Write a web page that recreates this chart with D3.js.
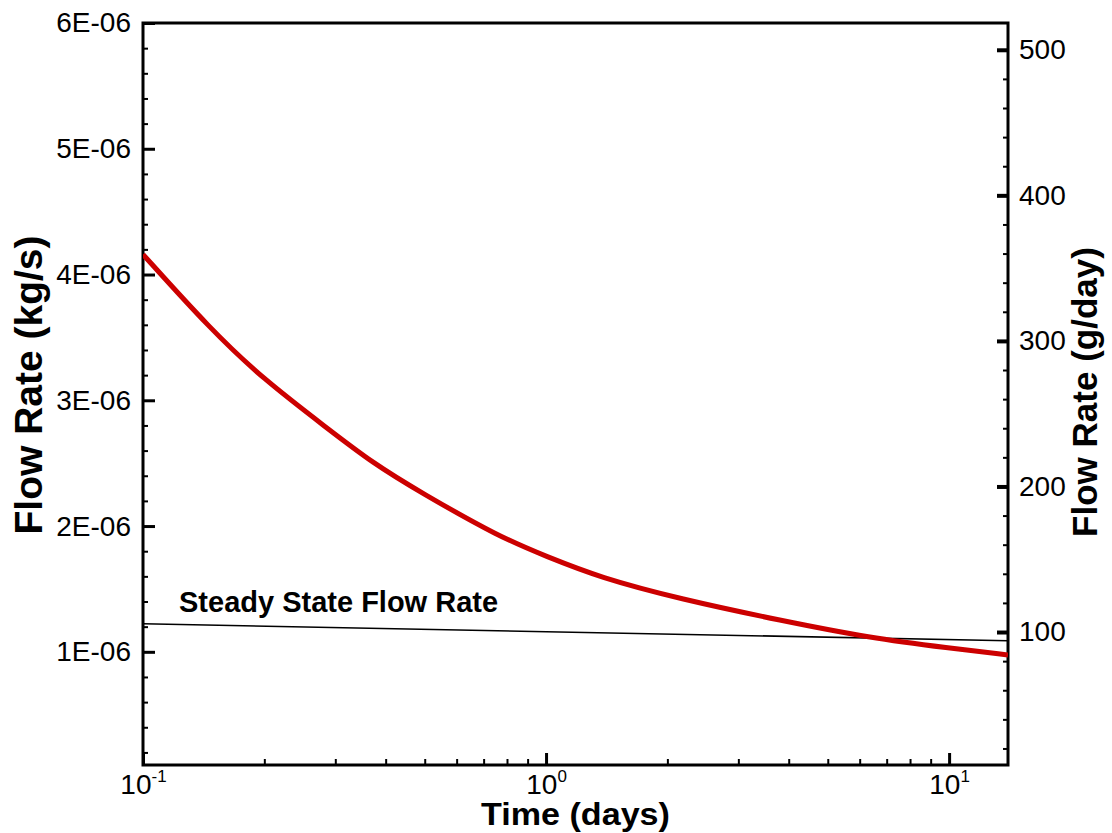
<!DOCTYPE html>
<html><head><meta charset="utf-8">
<script src="https://cdn.jsdelivr.net/npm/d3@7"></script>
<style>
body{margin:0;background:#fff}
svg{display:block}
text{font-family:"Liberation Sans",Arial,Helvetica,sans-serif;fill:#000}
</style>
</head><body>
<svg id="chart" width="1112" height="833"></svg>
<script>
// ---- data ----
const timeDays = [0.1, 0.1466, 0.1985, 0.286, 0.372, 0.487, 0.769, 1.0, 1.36, 2.15, 3.81, 6.37, 10, 14];
const flowKgPerS = [4.16e-6, 3.57e-6, 3.17e-6, 2.78e-6, 2.50e-6, 2.27e-6, 1.91e-6, 1.76e-6, 1.59e-6, 1.42e-6, 1.25e-6, 1.11e-6, 1.03e-6, 0.975e-6];
const steadyTime = [0.1, 14];
const steadyFlow = [1.223e-6, 1.088e-6];
const steadyLabel = "Steady State Flow Rate";
const xTickValues = [0.1, 1, 10];
const xTickExponents = ["-1", "0", "1"];
const xMinorTicks = [0.2, 0.3, 0.4, 0.5, 0.6, 0.7, 0.8, 0.9, 2, 3, 4, 5, 6, 7, 8, 9];
const leftTickValues = [1e-6, 2e-6, 3e-6, 4e-6, 5e-6, 6e-6];
const leftTickLabels = ["1E-06", "2E-06", "3E-06", "4E-06", "5E-06", "6E-06"];
const rightTickValues = [100, 200, 300, 400, 500];
const rightTickLabels = ["100", "200", "300", "400", "500"];
const xDomain = [0.1, 14];
const yDomain = [0.1e-6, 6e-6];
const kgPerSToGPerDay = 86400 * 1000;
const xTitle = "Time (days)";
const yLeftTitle = "Flow Rate (kg/s)";
const yRightTitle = "Flow Rate (g/day)";

// ---- layout ----
const L = 143, T = 23, R = 1008, B = 765;
const svg = d3.select("#chart");

const x = d3.scaleLog().domain(xDomain).range([L, R]);
const y = d3.scaleLinear().domain(yDomain).range([B, T]);
const yR = d3.scaleLinear().domain(yDomain.map(v => v * kgPerSToGPerDay)).range([B, T]);

const leftMinor = d3.range(2, 60, 2).filter(v => v % 10 !== 0).map(v => v * 1e-7);
const rightMinor = d3.range(20, 520, 20).filter(v => v % 100 !== 0 && v <= yDomain[1] * kgPerSToGPerDay);

function styleAxis(g, w) {
  g.select(".domain").remove();
  g.selectAll(".tick line").attr("stroke", "#000").attr("stroke-width", w);
}

// minor ticks
svg.append("g").attr("transform", `translate(${L},0)`)
  .call(d3.axisLeft(y).tickValues(leftMinor).tickFormat("").tickSizeInner(-5).tickSizeOuter(0))
  .call(g => styleAxis(g, 2));
svg.append("g").attr("transform", `translate(${R},0)`)
  .call(d3.axisRight(yR).tickValues(rightMinor).tickFormat("").tickSizeInner(-5).tickSizeOuter(0))
  .call(g => styleAxis(g, 2));
svg.append("g").attr("transform", `translate(0,${B})`)
  .call(d3.axisBottom(x).tickValues(xMinorTicks).tickFormat("").tickSizeInner(-6).tickSizeOuter(0))
  .call(g => styleAxis(g, 2));

// major left axis
svg.append("g").attr("transform", `translate(${L},0)`)
  .call(d3.axisLeft(y).tickValues(leftTickValues).tickFormat((d, i) => leftTickLabels[i])
    .tickSizeInner(-12).tickSizeOuter(0).tickPadding(12))
  .call(g => styleAxis(g, 3))
  .call(g => g.selectAll(".tick text").attr("font-size", 28).attr("font-family", "Liberation Sans, Arial, sans-serif")
    .attr("fill", "#000"));

// major right axis
svg.append("g").attr("transform", `translate(${R},0)`)
  .call(d3.axisRight(yR).tickValues(rightTickValues).tickFormat((d, i) => rightTickLabels[i])
    .tickSizeInner(-11).tickSizeOuter(0).tickPadding(11))
  .call(g => styleAxis(g, 4))
  .call(g => g.selectAll(".tick text").attr("font-size", 28).attr("font-family", "Liberation Sans, Arial, sans-serif")
    .attr("fill", "#000"));

// major x axis
const xg = svg.append("g").attr("transform", `translate(0,${B})`)
  .call(d3.axisBottom(x).tickValues(xTickValues).tickFormat("").tickSizeInner(-12).tickSizeOuter(0))
  .call(g => styleAxis(g, 3));
xg.selectAll(".tick text").remove();
xg.selectAll(".tick").each(function (d, i) {
  const t = d3.select(this).append("text").attr("y", 29).attr("text-anchor", "middle")
    .attr("font-size", 28).attr("fill", "#000");
  t.append("tspan").text("10");
  t.append("tspan").attr("dy", -12).attr("font-size", 17).text(xTickExponents[i]);
});

// frame
svg.append("rect").attr("x", L).attr("y", T).attr("width", R - L).attr("height", B - T)
  .attr("fill", "none").attr("stroke", "#000").attr("stroke-width", 3);

// clip
svg.append("clipPath").attr("id", "clip").append("rect")
  .attr("x", L).attr("y", T).attr("width", R - L).attr("height", B - T);

// steady state line
const steady = steadyTime.map((t, i) => [t, steadyFlow[i]]);
svg.append("path").datum(steady).attr("clip-path", "url(#clip)")
  .attr("d", d3.line().x(d => x(d[0])).y(d => y(d[1])))
  .attr("fill", "none").attr("stroke", "#000").attr("stroke-width", 1.6);

// flow curve
const flow = timeDays.map((t, i) => [t, flowKgPerS[i]]);
svg.append("path").datum(flow).attr("clip-path", "url(#clip)")
  .attr("d", d3.line().x(d => x(d[0])).y(d => y(d[1])).curve(d3.curveBasis))
  .attr("fill", "none").attr("stroke", "#cc0000").attr("stroke-width", 5);

// steady label
svg.append("text").attr("x", 179).attr("y", 612).attr("font-size", 29).attr("font-weight", "bold")
  .text(steadyLabel);

// axis titles
svg.append("text").attr("transform", `translate(${(L + R) / 2},825) scale(1.1,1)`)
  .attr("text-anchor", "middle").attr("font-size", 31).attr("font-weight", "bold").text(xTitle);
svg.append("text").attr("transform", `translate(42,385) rotate(-90)`)
  .attr("text-anchor", "middle").attr("font-size", 39).attr("font-weight", "bold").text(yLeftTitle);
svg.append("text").attr("transform", `translate(1097,392) rotate(-90)`)
  .attr("text-anchor", "middle").attr("font-size", 35).attr("font-weight", "bold").text(yRightTitle);
</script>
</body></html>
